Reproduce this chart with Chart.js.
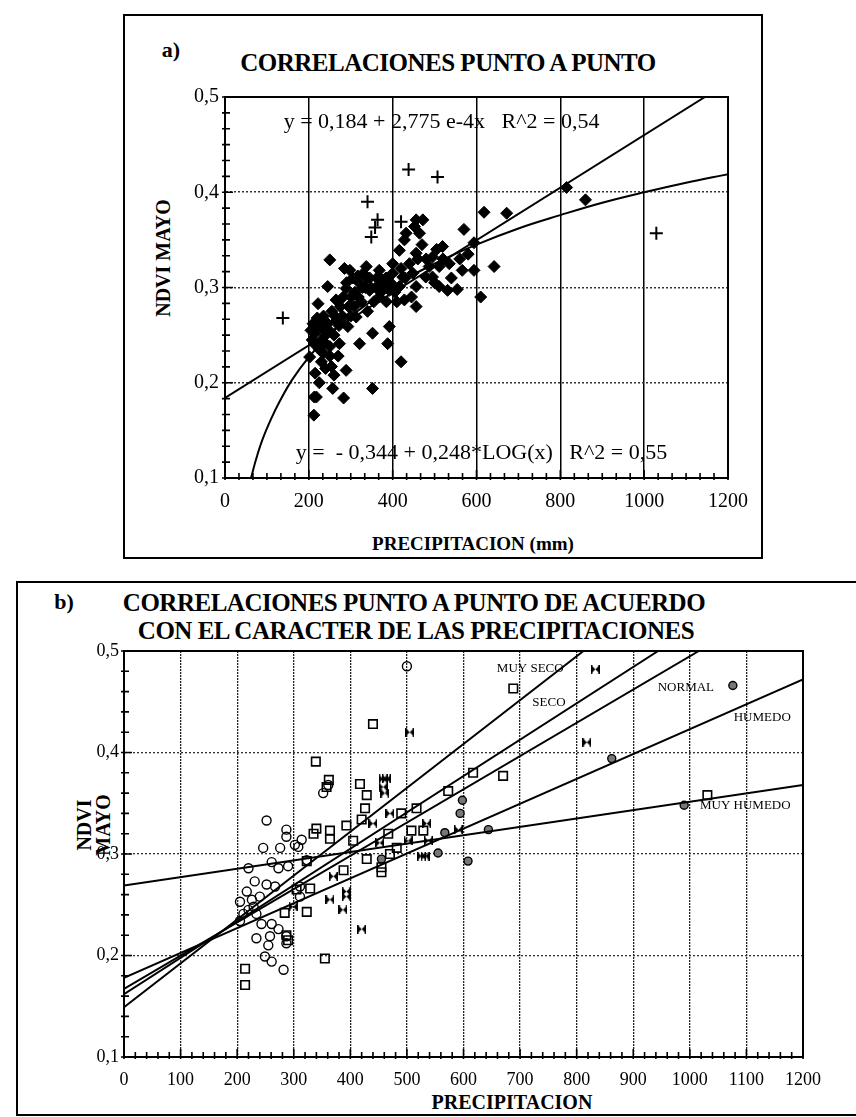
<!DOCTYPE html>
<html>
<head>
<meta charset="utf-8">
<script src="https://cdn.jsdelivr.net/npm/chart.js@4"></script>
<style>
body { margin: 0; background: #fff; width: 856px; height: 1117px; position: relative; overflow: hidden;
       font-family: "Liberation Serif", "Times New Roman", serif; color: #000; }
.box { position: absolute; border: 2px solid #000; box-sizing: border-box; }
.t { position: absolute; white-space: nowrap; font-weight: bold; transform: translate(-50%, -50%); line-height: 1; }
.v { transform: translate(-50%, -50%) rotate(-90deg); }
canvas { position: absolute; }
</style>
</head>
<body>
<div class="box" style="left:123px;top:14px;width:640px;height:545px"></div>
<div class="box" style="left:16px;top:581px;width:850px;height:535px"></div>

<div class="t" style="left:171px;top:50px;font-size:22px">a)</div>
<div class="t" style="left:448px;top:62px;font-size:25px;letter-spacing:-0.5px">CORRELACIONES PUNTO A PUNTO</div>
<div class="t v" style="left:163px;top:258px;font-size:20px">NDVI MAYO</div>
<div class="t" style="left:473px;top:543px;font-size:19px">PRECIPITACION (mm)</div>

<div class="t" style="left:64px;top:602px;font-size:22px">b)</div>
<div class="t" style="left:414px;top:602px;font-size:25px;letter-spacing:-0.5px">CORRELACIONES PUNTO A PUNTO DE ACUERDO</div>
<div class="t" style="left:416px;top:630px;font-size:25px;letter-spacing:-0.5px">CON EL CARACTER DE LAS PRECIPITACIONES</div>
<div class="t v" style="left:94px;top:825px;font-size:20px;line-height:19px;text-align:center">NDVI<br>MAYO</div>
<div class="t" style="left:512px;top:1102px;font-size:20px">PRECIPITACION</div>

<canvas id="chartA" width="634" height="541" style="left:126px;top:16px"></canvas>
<canvas id="chartB" width="838" height="530" style="left:18px;top:583px"></canvas>

<script>
// ---- chart a) data: [precipitacion, ndvi]
const diamondsA = [
  [250,0.329],[222,0.283],[245,0.301],[285,0.320],[289,0.299],[317,0.312],[337,0.322],[368,0.318],
  [345,0.297],[301,0.290],[265,0.287],[214,0.252],[230,0.245],[202,0.227],[234,0.231],[273,0.241],
  [293,0.259],[313,0.269],[352,0.252],[321,0.241],[289,0.213],[254,0.217],[257,0.194],[218,0.185],
  [392,0.259],[388,0.241],[420,0.222],[352,0.194],[392,0.297],[400,0.315],[416,0.301],[428,0.287],
  [400,0.325],[416,0.339],[428,0.350],[432,0.357],[456,0.371],[464,0.357],[472,0.371],[452,0.364],
  [456,0.336],[456,0.280],[456,0.301],[448,0.315],[495,0.332],[519,0.343],[511,0.322],[535,0.325],
  [495,0.311],[511,0.301],[531,0.297],[554,0.298],[570,0.361],[566,0.318],[594,0.318],[594,0.347],
  [610,0.290],[618,0.379],[642,0.322],[376,0.304],[368,0.290],[424,0.311],[479,0.311],[487,0.322],
  [672,0.378],[815,0.405],[860,0.392],[213,0.185],[212,0.166],[283,0.184],
  [205,0.255],[210,0.262],[215,0.240],[220,0.268],[225,0.235],[230,0.258],[235,0.270],[240,0.250],
  [245,0.262],[250,0.238],[255,0.275],[260,0.250],[265,0.265],[270,0.228],[275,0.280],[280,0.270],
  [290,0.305],[295,0.280],[300,0.270],[305,0.310],[310,0.295],[320,0.305],[325,0.285],[330,0.315],
  [335,0.300],[340,0.275],[345,0.310],[355,0.285],[360,0.300],[370,0.310],[380,0.300],[385,0.285],
  [395,0.305],[405,0.295],[410,0.285],[420,0.320],[430,0.310],[440,0.325],[445,0.290],[460,0.330],
  [470,0.345],[480,0.330],[500,0.305],[505,0.340],[520,0.330],[540,0.310],[560,0.330],[580,0.335],
  [215,0.210],[225,0.200],[240,0.215],[260,0.208],[230,0.222],[250,0.228],
  [208,0.245],[218,0.258],[228,0.265],[238,0.242],[248,0.255],[262,0.27],[272,0.26],[282,0.29],
  [298,0.318],[308,0.28],[318,0.29],[328,0.3],[338,0.31],[348,0.3],[362,0.31],[372,0.295],[384,0.31]
];
const plusA = [
  [138,0.268],[340,0.390],[364,0.371],[358,0.363],[349,0.353],[420,0.369],[438,0.424],[507,0.416],[1029,0.357]
];
const linearA = [[0,0.184],[1145,0.5]];
const logCurveA = [
  [62,0.100],[75,0.121],[90,0.141],[110,0.162],[130,0.180],[160,0.203],[200,0.227],[250,0.251],
  [300,0.270],[400,0.301],[500,0.325],[600,0.345],[700,0.362],[800,0.376],[900,0.389],[1000,0.400],
  [1100,0.410],[1200,0.419]
];
const xLabelsA = [0,200,400,600,800,1000,1200];
const yLabelsA = [0.1,0.2,0.3,0.4,0.5];
const notesA = [
  {text: 'y = 0,184 + 2,775 e-4x   R^2 = 0,54', x: 140, y: 0.474},
  {text: 'y =  - 0,344 + 0,248*LOG(x)   R^2 = 0,55', x: 169, y: 0.126}
];

// ---- chart b) data
const circlesB = [
  [252,0.333],[287,0.324],[287,0.317],[246,0.306],[276,0.306],[302,0.309],[314,0.314],[308,0.307],
  [220,0.286],[261,0.292],[273,0.286],[290,0.288],[231,0.273],[252,0.270],[267,0.268],[217,0.263],
  [205,0.253],[226,0.255],[240,0.258],[220,0.245],[234,0.241],[243,0.231],[261,0.231],[273,0.226],
  [234,0.217],[258,0.219],[255,0.210],[287,0.219],[287,0.212],[249,0.199],[261,0.194],[282,0.186],
  [352,0.360],[361,0.368],[323,0.294],[311,0.268],[229,0.248],[211,0.241],[205,0.234],[311,0.258],[500,0.485]
];
const squaresB = [
  [214,0.187],[214,0.171],[440,0.428],[339,0.391],[362,0.373],[358,0.366],[417,0.369],[429,0.358],
  [426,0.345],[420,0.334],[340,0.325],[364,0.323],[364,0.315],[335,0.320],[393,0.328],[405,0.313],
  [429,0.295],[388,0.284],[323,0.293],[329,0.266],[305,0.265],[284,0.242],[323,0.243],[287,0.220],
  [290,0.215],[355,0.197],[490,0.340],[517,0.345],[467,0.320],[470,0.300],[482,0.306],[455,0.287],
  [455,0.282],[508,0.323],[529,0.323],[573,0.362],[617,0.380],[670,0.377],[688,0.463],[1031,0.358]
];
const bowtiesB = [
  [505,0.420],[458,0.374],[464,0.374],[458,0.366],[461,0.360],[470,0.340],[440,0.330],[452,0.311],
  [502,0.313],[535,0.330],[538,0.313],[591,0.324],[393,0.263],[393,0.258],[387,0.245],[420,0.226],
  [364,0.255],[370,0.278],[299,0.248],[833,0.482],[818,0.410],[526,0.298],[532,0.298]
];
const dotsB = [
  [598,0.353],[594,0.340],[567,0.321],[555,0.301],[608,0.293],[644,0.324],[455,0.295],[862,0.394],
  [1076,0.466],[990,0.348]
];
const muySecoB = [[0,0.149],[812,0.5]];
const secoB = [[0,0.162],[944,0.5]];
const normalB = [[0,0.167],[1016,0.5]];
const humedoB = [[0,0.178],[1200,0.472]];
const muyHumedoB = [[0,0.269],[1200,0.368]];
const xLabelsB = [0,100,200,300,400,500,600,700,800,900,1000,1100,1200];
const yLabelsB = [0.1,0.2,0.3,0.4,0.5];
const notesB = [
  {text: 'MUY SECO', x: 718, y: 0.483},
  {text: 'SECO', x: 751, y: 0.449},
  {text: 'NORMAL', x: 993, y: 0.464},
  {text: 'HUMEDO', x: 1128, y: 0.434},
  {text: 'MUY HUMEDO', x: 1098, y: 0.348}
];

const SERIF = '"Liberation Serif", "Times New Roman", serif';
const pts = arr => arr.map(([x, y]) => ({x, y}));
const comma = v => v.toFixed(1).replace('.', ',');

// bow-tie marker
const bow = document.createElement('canvas');
bow.width = 9; bow.height = 9;
(function () {
  const c = bow.getContext('2d');
  c.fillStyle = '#000';
  c.beginPath(); c.moveTo(0, 0); c.lineTo(4.5, 4.5); c.lineTo(0, 9); c.closePath(); c.fill();
  c.beginPath(); c.moveTo(9, 0); c.lineTo(4.5, 4.5); c.lineTo(9, 9); c.closePath(); c.fill();
  c.fillRect(0, 0, 1.5, 9); c.fillRect(7.5, 0, 1.5, 9);
})();

// text notes, plot frame and inward tick marks (major + minor)
const notesPlugin = {
  id: 'notes',
  afterDatasetsDraw(chart, args, opts) {
    const {ctx, scales: {x, y}} = chart;
    ctx.save();
    ctx.fillStyle = '#000';
    ctx.font = opts.font;
    ctx.textBaseline = 'middle';
    ctx.textAlign = opts.align;
    opts.items.forEach(it => ctx.fillText(it.text, x.getPixelForValue(it.x), y.getPixelForValue(it.y)));
    ctx.restore();
  },
  afterDraw(chart, args, opts) {
    const {ctx, chartArea: a, scales: {x, y}} = chart;
    ctx.save();
    ctx.strokeStyle = '#000';
    ctx.lineWidth = 2;
    ctx.strokeRect(a.left, a.top, a.right - a.left, a.bottom - a.top);
    ctx.lineWidth = 1.6;
    ctx.beginPath();
    const nx = Math.round((x.max - x.min) / opts.minorX);
    for (let i = 0; i <= nx; i++) {
      const px = x.getPixelForValue(x.min + i * opts.minorX);
      const len = i % opts.subX === 0 ? 8 : 5;
      ctx.moveTo(px, a.bottom + 2); ctx.lineTo(px, a.bottom - len);
    }
    const ny = Math.round((y.max - y.min) / opts.minorY);
    for (let i = 0; i <= ny; i++) {
      const py = y.getPixelForValue(y.min + i * opts.minorY);
      const len = i % opts.subY === 0 ? 8 : 5;
      ctx.moveTo(a.left - 3, py); ctx.lineTo(a.left + len, py);
    }
    ctx.stroke();
    ctx.restore();
  }
};

function lineSet(data, extra) {
  return Object.assign({data: pts(data), showLine: true, borderColor: '#000', borderWidth: 2,
    pointRadius: 0, fill: false}, extra || {});
}

new Chart(document.getElementById('chartA'), {
  type: 'scatter',
  data: {
    datasets: [
      {data: pts(diamondsA), pointStyle: 'rectRot', radius: 6, backgroundColor: '#000', borderColor: '#000', borderWidth: 1},
      {data: pts(plusA), pointStyle: 'cross', radius: 6.5, borderColor: '#000', borderWidth: 2},
      lineSet(linearA),
      lineSet(logCurveA, {tension: 0.4})
    ]
  },
  options: {
    responsive: false, animation: false, devicePixelRatio: 1, events: [],
    layout: {padding: {top: 81, right: 30, left: 0, bottom: 0}},
    plugins: {
      legend: {display: false}, tooltip: {enabled: false},
      notes: {items: notesA, font: '22px ' + SERIF, align: 'left', minorX: 200 / 6, subX: 6, minorY: 0.1 / 6, subY: 6}
    },
    scales: {
      x: {
        type: 'linear', min: 0, max: 1200,
        afterFit: s => { s.height = 79; },
        afterBuildTicks: s => { s.ticks = xLabelsA.map(value => ({value})); },
        ticks: {maxRotation: 0, padding: 12, color: '#000', font: {family: SERIF, size: 20}, callback: v => String(v)},
        grid: {color: '#000', lineWidth: 1.5, drawTicks: false},
        border: {color: '#000', width: 2}
      },
      y: {
        type: 'linear', min: 0.1, max: 0.5,
        afterFit: s => { s.width = 99; },
        afterBuildTicks: s => { s.ticks = yLabelsA.map(value => ({value})); },
        ticks: {padding: 6, color: '#000', font: {family: SERIF, size: 20}, callback: v => comma(v)},
        grid: {color: '#333', lineWidth: 1.5, drawTicks: false},
        border: {color: '#000', width: 2, dash: [2, 2]}
      }
    }
  },
  plugins: [notesPlugin]
});

new Chart(document.getElementById('chartB'), {
  type: 'scatter',
  data: {
    datasets: [
      lineSet(muySecoB), lineSet(secoB), lineSet(normalB), lineSet(humedoB), lineSet(muyHumedoB),
      {data: pts(circlesB), pointStyle: 'circle', radius: 4.5, borderColor: '#000', borderWidth: 1.4, backgroundColor: 'rgba(0,0,0,0)'},
      {data: pts(squaresB), pointStyle: 'rect', radius: 6, borderColor: '#000', borderWidth: 1.6, backgroundColor: 'rgba(0,0,0,0)'},
      {data: pts(bowtiesB), pointStyle: bow},
      {data: pts(dotsB), pointStyle: 'circle', radius: 4, borderColor: '#000', borderWidth: 1.4, backgroundColor: '#777'}
    ]
  },
  options: {
    responsive: false, animation: false, devicePixelRatio: 1, events: [],
    layout: {padding: {top: 68, right: 53, left: 0, bottom: 0}},
    plugins: {
      legend: {display: false}, tooltip: {enabled: false},
      notes: {items: notesB, font: '13px ' + SERIF, align: 'center', minorX: 20, subX: 5, minorY: 0.02, subY: 5}
    },
    scales: {
      x: {
        type: 'linear', min: 0, max: 1200,
        afterFit: s => { s.height = 56; },
        afterBuildTicks: s => { s.ticks = xLabelsB.map(value => ({value})); },
        ticks: {maxRotation: 0, autoSkip: false, padding: 12, color: '#000', font: {family: SERIF, size: 18}, callback: v => String(v)},
        grid: {color: '#222', lineWidth: 1.3, drawTicks: false},
        border: {color: '#000', width: 2, dash: [2, 1]}
      },
      y: {
        type: 'linear', min: 0.1, max: 0.5,
        afterFit: s => { s.width = 106; },
        afterBuildTicks: s => { s.ticks = yLabelsB.map(value => ({value})); },
        ticks: {padding: 5, color: '#000', font: {family: SERIF, size: 18}, callback: v => comma(v)},
        grid: {color: '#333', lineWidth: 1.3, drawTicks: false},
        border: {color: '#000', width: 2, dash: [2, 2]}
      }
    }
  },
  plugins: [notesPlugin]
});
</script>
</body>
</html>
